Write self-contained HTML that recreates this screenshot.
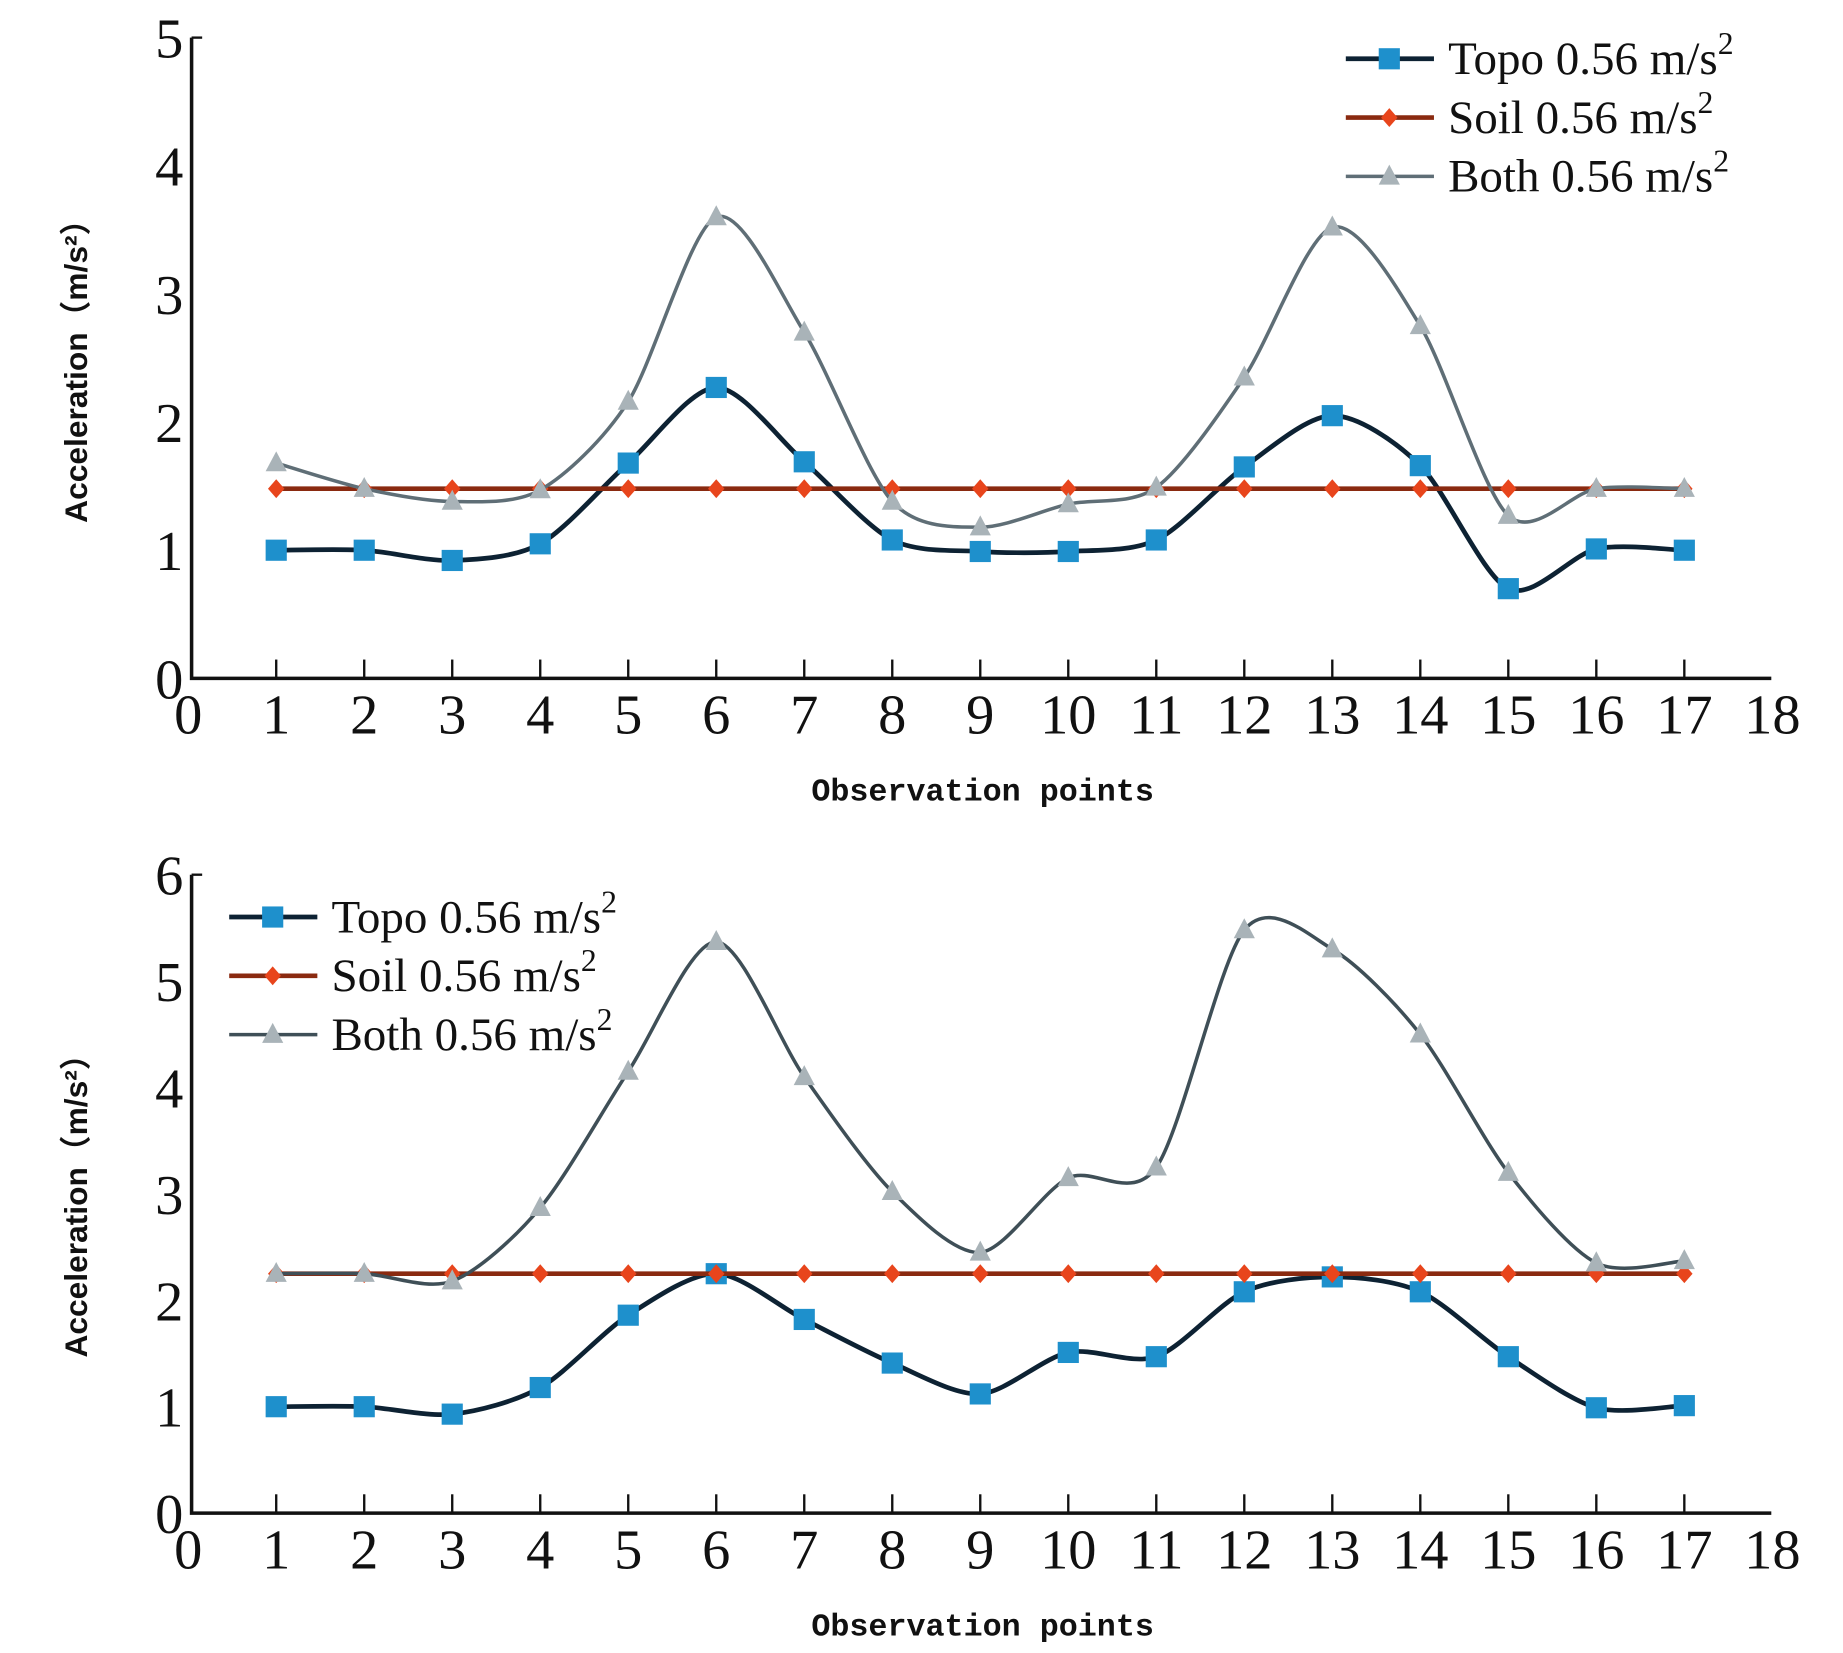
<!DOCTYPE html>
<html><head><meta charset="utf-8"><style>
html,body{margin:0;padding:0;background:#fff;}
svg{display:block;}
.tk{font-family:"Liberation Serif",serif;font-size:48px;fill:#111;}
.lg{font-family:"Liberation Serif",serif;font-size:40px;fill:#111;}
.ax{font-family:"Liberation Mono",monospace;font-weight:bold;font-size:27px;fill:#111;}
.ay{font-family:"Liberation Sans","Noto Sans CJK SC",sans-serif;font-weight:bold;font-size:27px;fill:#111;}
</style></head><body>
<svg id="svg" width="1843" height="1653" viewBox="0 0 1568 1406" preserveAspectRatio="none" xmlns="http://www.w3.org/2000/svg"></svg>
<script>
const categories=[1,2,3,4,5,6,7,8,9,10,11,12,13,14,15,16,17];
const xTicks=[0,1,2,3,4,5,6,7,8,9,10,11,12,13,14,15,16,17,18];
const topYTicks=[0,1,2,3,4,5];
const botYTicks=[0,1,2,3,4,5,6];
const topTopo=[1,1,0.92,1.05,1.68,2.27,1.69,1.08,0.99,0.99,1.08,1.65,2.05,1.66,0.7,1.01,1.0];
const topSoil=[1.48,1.48,1.48,1.48,1.48,1.48,1.48,1.48,1.48,1.48,1.48,1.48,1.48,1.48,1.48,1.48,1.48];
const topBoth=[1.68,1.48,1.38,1.47,2.16,3.6,2.7,1.38,1.18,1.36,1.49,2.35,3.52,2.75,1.27,1.48,1.48];
const botTopo=[1,1,0.93,1.18,1.86,2.25,1.82,1.41,1.12,1.51,1.47,2.08,2.22,2.08,1.47,0.99,1.01];
const botSoil=[2.25,2.25,2.25,2.25,2.25,2.25,2.25,2.25,2.25,2.25,2.25,2.25,2.25,2.25,2.25,2.25,2.25];
const botBoth=[2.25,2.25,2.18,2.87,4.15,5.37,4.1,3.02,2.45,3.15,3.25,5.48,5.3,4.5,3.2,2.35,2.37];
const legendLabels=["Topo 0.56","Soil 0.56 ","Both 0.56 "];

const NS="http://www.w3.org/2000/svg";
const svg=document.getElementById('svg');
function mk(tag,attrs,parent){const e=document.createElementNS(NS,tag);for(const k in attrs)e.setAttribute(k,attrs[k]);(parent||svg).appendChild(e);return e;}
function smooth(pts){let d=`M${pts[0][0]},${pts[0][1]}`;for(let i=0;i<pts.length-1;i++){const p0=pts[Math.max(0,i-1)],p1=pts[i],p2=pts[i+1],p3=pts[Math.min(pts.length-1,i+2)];const t=7;d+=` C${p1[0]+(p2[0]-p0[0])/t},${p1[1]+(p2[1]-p0[1])/t} ${p2[0]-(p3[0]-p1[0])/t},${p2[1]-(p3[1]-p1[1])/t} ${p2[0]},${p2[1]}`;}return d;}

function marker(g,type,x,y){
  let m;
  if(type==='sq'){m=mk('rect',{x:x-9,y:y-9,width:18,height:18,fill:'#1e90cc'},g);}
  else if(type==='dia'){m=mk('polygon',{points:`${x},${y-8} ${x+7},${y} ${x},${y+8} ${x-7},${y}`,fill:'#e8451c'},g);}
  else {m=mk('polygon',{points:`${x},${y-10} ${x+9},${y+7} ${x-9},${y+7}`,fill:'#a9b3b8'},g);}
  
  
}

function chart(name,y0,yUnit,yTicks,series,legX,legY){
  const g=mk('g',{});
  
  
  const X=v=>235+(v-1)*74.875;
  const Y=v=>y0-v*yUnit;
  const ymax=yTicks[yTicks.length-1];
  const ax=mk('path',{d:`M163,${Y(ymax)} V${y0} H1507`,stroke:'#111','stroke-width':3,fill:'none'},g);
  
  
  mk('line',{x1:163,y1:Y(ymax),x2:172,y2:Y(ymax),stroke:'#111','stroke-width':2},g);
  yTicks.forEach(t=>{
    const tx=mk('text',{x:156,y:Y(t)+17,'text-anchor':'end',class:'tk'},g);tx.textContent=t;
    
    
  });
  xTicks.forEach(t=>{
    if(t>=1&&t<=17) mk('line',{x1:X(t),y1:y0,x2:X(t),y2:y0-16,stroke:'#111','stroke-width':2},g);
    const tx=mk('text',{x:X(t),y:y0+47,'text-anchor':'middle',class:'tk'},g);tx.textContent=t;
    
    
  });
  const xt=mk('text',{x:836,y:y0+104,'text-anchor':'middle',class:'ax'},g);xt.textContent='Observation points';
  
  
  const cy=y0-268;
  const yt=mk('text',{x:74,y:cy,'text-anchor':'middle',class:'ay',transform:`rotate(-90 74 ${cy})`},g);yt.textContent='Acceleration（m/s²）';
  
  
  series.forEach(s=>{
    const pts=categories.map((c,i)=>[X(c),Y(s.vals[i])]);
    const p=mk('path',{d:smooth(pts),stroke:s.col,'stroke-width':s.w,fill:'none'},g);
    
    
    pts.forEach(q=>marker(g,s.m,q[0],q[1]));
  });
  series.forEach((s,i)=>{
    const ly=legY+i*50;
    const le=mk('g',{},g);
    
    
    mk('line',{x1:legX,y1:ly,x2:legX+75,y2:ly,stroke:s.col,'stroke-width':s.w},le);
    marker(le,s.m,legX+37,ly);
    const t=mk('text',{x:legX+87,y:ly+13,class:'lg'},le);
    t.textContent=legendLabels[i]+' m/s';
    const sup=mk('tspan',{dy:-17,'font-size':27},t);sup.textContent='2';
  });
}
chart('top-chart',577,109,topYTicks,[
  {name:'topo',vals:topTopo,col:'#0d2233',w:4,m:'sq'},
  {name:'soil',vals:topSoil,col:'#8a2a10',w:4,m:'dia'},
  {name:'both',vals:topBoth,col:'#5f6e76',w:3,m:'tri'}],1145,50);
chart('bottom-chart',1287,90.5,botYTicks,[
  {name:'topo',vals:botTopo,col:'#0d2233',w:4,m:'sq'},
  {name:'soil',vals:botSoil,col:'#8a2a10',w:4,m:'dia'},
  {name:'both',vals:botBoth,col:'#3f4f57',w:3,m:'tri'}],195,780);
</script>
</body></html>
